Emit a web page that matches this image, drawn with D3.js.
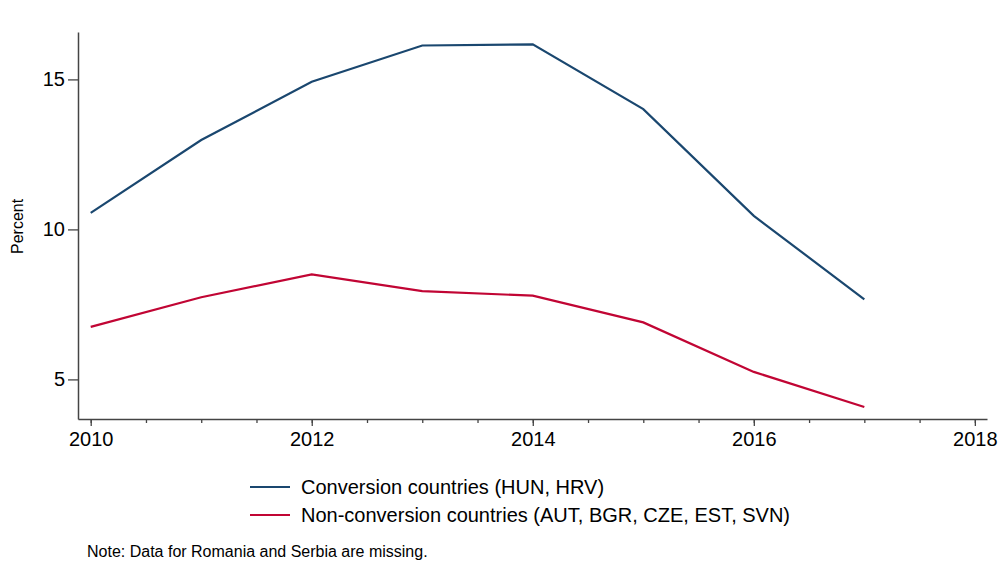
<!DOCTYPE html>
<html>
<head>
<meta charset="utf-8">
<script src="https://cdn.jsdelivr.net/npm/d3@7"></script>
<style>
	body { margin: 0; background: #ffffff; }
	svg { display: block; }
	svg text { font-family: "Liberation Sans", Arial, sans-serif; fill: #000000; }
</style>
</head>
<body>
<div id="chart"></div>
<script>
// Data
const years = [2010, 2011, 2012, 2013, 2014, 2015, 2016, 2017];
const conversion = [10.55, 12.98, 14.92, 16.13, 16.17, 14.01, 10.45, 7.67];
const nonConversion = [6.75, 7.74, 8.5, 7.94, 7.79, 6.9, 5.25, 4.08];
const seriesNames = [
	"Conversion countries (HUN, HRV)",
	"Non-conversion countries (AUT, BGR, CZE, EST, SVN)",
];
const xTicks = [2010, 2012, 2014, 2016, 2018];
const xMinorTicks = d3.range(2010, 2018.01, 0.5);
const yTicks = [5, 10, 15];
const note = "Note: Data for Romania and Serbia are missing.";

const width = 998;
const height = 581;
const colors = ["#1a476f", "#c10534"];
const axisColor = "#444444";

const x = d3.scaleLinear().domain([2009.885, 2018.11]).range([78, 987]);
const y = d3.scaleLinear().domain([3.68, 16.58]).range([419, 32]);

const svg = d3
	.select("#chart")
	.append("svg")
	.attr("width", width)
	.attr("height", height);

// Minor x ticks
svg
	.append("g")
	.attr("transform", `translate(0, ${y(3.68)})`)
	.call(d3.axisBottom(x).tickValues(xMinorTicks).tickSize(4).tickFormat(""))
	.call((g) => g.select(".domain").remove())
	.selectAll("line")
	.attr("stroke", axisColor)
	.attr("stroke-width", 1.3);

// Major x axis
svg
	.append("g")
	.attr("transform", `translate(0, ${y(3.68)})`)
	.call(
		d3
			.axisBottom(x)
			.tickValues(xTicks)
			.tickSize(7)
			.tickPadding(6)
			.tickSizeOuter(0)
			.tickFormat(d3.format("d")),
	)
	.attr("font-family", null)
	.attr("font-size", 20)
	.call((g) => g.select(".domain").attr("stroke", axisColor).attr("stroke-width", 1.5))
	.call((g) => g.selectAll("line").attr("stroke", axisColor).attr("stroke-width", 1.3));

// y axis
svg
	.append("g")
	.attr("transform", `translate(${x(2009.885)}, 0)`)
	.call(
		d3.axisLeft(y).tickValues(yTicks).tickSize(10).tickPadding(3).tickSizeOuter(0),
	)
	.attr("font-family", null)
	.attr("font-size", 20)
	.call((g) => g.select(".domain").attr("stroke", axisColor).attr("stroke-width", 1.5))
	.call((g) => g.selectAll("line").attr("stroke", axisColor).attr("stroke-width", 1.3));

// y title
svg
	.append("text")
	.attr("transform", `translate(23, ${y(10.1)}) rotate(-90)`)
	.attr("text-anchor", "middle")
	.attr("font-size", 16)
	.text("Percent");

// Lines
const line = d3
	.line()
	.x((d) => x(d[0]))
	.y((d) => y(d[1]));

[conversion, nonConversion].forEach((values, i) => {
	svg
		.append("path")
		.datum(years.map((yr, j) => [yr, values[j]]))
		.attr("fill", "none")
		.attr("stroke", colors[i])
		.attr("stroke-width", 2.2)
		.attr("d", line);
});

// Legend
const legend = svg
	.append("g")
	.selectAll("g")
	.data(seriesNames)
	.enter()
	.append("g")
	.attr("transform", (d, i) => `translate(250, ${487 + i * 28})`);

legend
	.append("line")
	.attr("x1", 0)
	.attr("x2", 40)
	.attr("stroke", (d, i) => colors[i])
	.attr("stroke-width", 2.2);

legend
	.append("text")
	.attr("x", 51)
	.attr("dy", "0.35em")
	.attr("font-size", 20)
	.text((d) => d);

// Note
svg
	.append("text")
	.attr("x", 87)
	.attr("y", 557)
	.attr("font-size", 16)
	.text(note);
</script>
</body>
</html>
